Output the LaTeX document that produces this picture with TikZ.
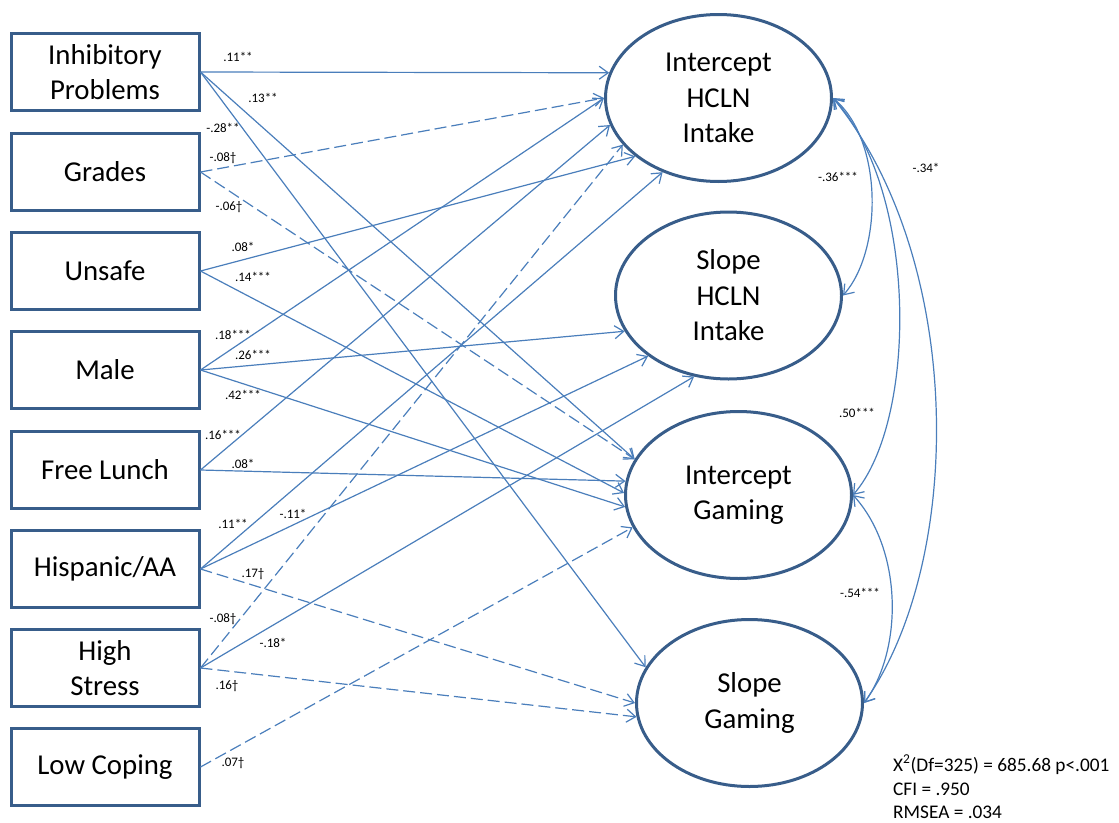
\documentclass[tikz,border=0pt]{standalone}
\usepackage{fontspec}
\setmainfont{Carlito}
\usetikzlibrary{arrows.meta,shapes.geometric}
\definecolor{boxline}{HTML}{385D8A}
\definecolor{pathline}{HTML}{4A7EBB}

\begin{document}
\begin{tikzpicture}[%
        x = 1pt, y = -1pt,
        obs/.style = {draw=boxline, line width=3pt, minimum width=188pt,
          minimum height=77pt, inner sep=0pt, align=center,
          font=\fontsize{28.8}{35.5}\selectfont},
        lat/.style = {ellipse, draw=boxline, line width=3pt, minimum width=226pt,
          minimum height=167pt, inner sep=0pt, align=center,
          font=\fontsize{28.8}{35.5}\selectfont},
        reg/.style = {draw=pathline, line width=1.2pt,
          -{Straight Barb[length=9pt,width=13pt]}},
        weak/.style = {reg, dash pattern=on 12pt off 5pt},
        cov/.style = {draw=pathline, line width=1.2pt,
          {Straight Barb[length=9pt,width=13pt]}-{Straight Barb[length=9pt,width=13pt]}},
        coef/.style = {font=\fontsize{13}{15}\selectfont, inner sep=0pt}
    ]
      \useasboundingbox (0,0) rectangle (1119,822);
      % observed predictors
      \node[obs] (inh) at (105,72) {Inhibitory\\Problems};
      \node[obs] (grd) at (105,172) {Grades};
      \node[obs] (unsafe) at (105,271) {Unsafe};
      \node[obs] (male) at (105,370) {Male};
      \node[obs] (lunch) at (105,470) {Free Lunch};
      \node[obs] (hisp) at (105,569) {Hispanic/AA};
      \node[obs] (stress) at (105,668) {High\\Stress};
      \node[obs] (cope) at (105,767) {Low Coping};
      % growth factors
      \node[lat] (ihcln) at (718.5,98) {Intercept\\HCLN\\Intake};
      \node[lat] (shcln) at (728.5,295.5) {Slope\\HCLN\\Intake};
      \node[lat] (igam) at (738.5,495) {Intercept\\Gaming};
      \node[lat] (sgam) at (749.5,703) {Slope\\Gaming};
      % paths to Intercept HCLN
      \draw[reg] (inh.east) -- (ihcln.167);
      \draw[weak] (grd.east) -- (ihcln.180);
      \draw[reg] (male.east) -- (ihcln.180);
      \draw[reg] (lunch.east) -- (ihcln.-166);
      \draw[weak] (stress.east) -- (ihcln.-154);
      \draw[reg] (unsafe.east) -- (ihcln.-145);
      \draw[reg] (hisp.east) -- (ihcln.-127);
      % paths to Slope HCLN
      \draw[reg] (male.east) -- (shcln.-161);
      \draw[reg] (hisp.east) -- (shcln.-143);
      \draw[reg] (stress.east) -- (shcln.-113);
      % paths to Intercept Gaming
      \draw[reg] (inh.east) -- (igam.161);
      \draw[weak] (grd.east) -- (igam.161);
      \draw[reg] (lunch.east) -- (igam.173);
      \draw[reg] (unsafe.east) -- (igam.179);
      \draw[reg] (male.east) -- (igam.-174);
      \draw[weak] (cope.east) -- (igam.-163);
      % paths to Slope Gaming
      \draw[reg] (inh.east) -- (sgam.161);
      \draw[weak] (hisp.east) -- (sgam.180);
      \draw[weak] (stress.east) -- (sgam.-173);
      % covariances
      \draw[cov] (ihcln.east) .. controls (883,140) and (883,250) .. (shcln.east);
      \draw[cov] (ihcln.east) .. controls (918,190) and (918,420) .. (igam.east);
      \draw[cov] (ihcln.east) .. controls (965,260) and (965,560) .. (sgam.east);
      \draw[cov] (igam.east) .. controls (903,550) and (903,650) .. (sgam.east);
      % coefficients
      \node[coef] (k1) at (238,57) {.11**};
      \node[coef] (k2) at (263,98) {.13**};
      \node[coef] (k3) at (223,128) {-.28**};
      \node[coef] (k4) at (223,158) {-.08†};
      \node[coef] (k5) at (229,207) {-.06†};
      \node[coef] (k6) at (243,247) {.08*};
      \node[coef] (k7) at (253,277) {.14***};
      \node[coef] (k8) at (233,335) {.18***};
      \node[coef] (k9) at (253,355) {.26***};
      \node[coef] (k10) at (243,395) {.42***};
      \node[coef] (k11) at (223,435) {.16***};
      \node[coef] (k12) at (243,464) {.08*};
      \node[coef] (k13) at (233,524) {.11**};
      \node[coef] (k14) at (293,514) {-.11*};
      \node[coef] (k15) at (253,574) {.17†};
      \node[coef] (k16) at (223,619) {-.08†};
      \node[coef] (k17) at (273,643) {-.18*};
      \node[coef] (k18) at (227,686) {.16†};
      \node[coef] (k19) at (233,763) {.07†};
      \node[coef] (r1) at (838,177) {-.36***};
      \node[coef] (r2) at (926,168) {-.34*};
      \node[coef] (r3) at (857,413) {.50***};
      \node[coef] (r4) at (860,593) {-.54***};
      % fit
      \node[anchor=north west, align=left, inner sep=0pt,
        font=\fontsize{19.3}{23.5}\selectfont] (fit) at (893,755)
        {X\textsuperscript{2}(Df=325) = 685.68 p<.001\\CFI = .950\\RMSEA = .034};
    \end{tikzpicture}
\end{document}
